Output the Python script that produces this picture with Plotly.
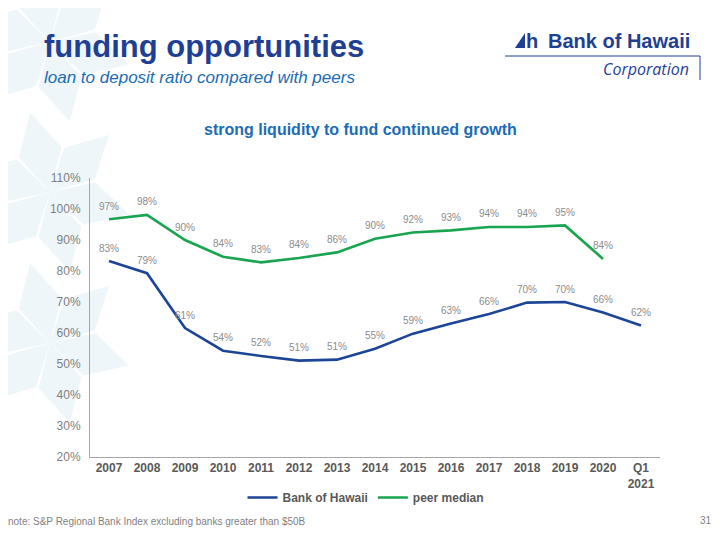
import math
import plotly.graph_objects as go

# loan to deposit ratio, %
years = ["2007", "2008", "2009", "2010", "2011", "2012", "2013", "2014",
         "2015", "2016", "2017", "2018", "2019", "2020", "Q1<br>2021"]
boh = [83.2, 79.3, 61.6, 54.3, 52.6, 51.1, 51.4, 54.9,
       59.8, 63.1, 66.1, 69.8, 70.0, 66.6, 62.4]
peer = [96.7, 98.1, 90.0, 84.6, 82.8, 84.2, 86.0, 90.4,
        92.4, 93.1, 94.2, 94.2, 94.7, 83.9, None]
boh_labels = ["83%", "79%", "61%", "54%", "52%", "51%", "51%", "55%",
              "59%", "63%", "66%", "70%", "70%", "66%", "62%"]
peer_labels = ["97%", "98%", "90%", "84%", "83%", "84%", "86%", "90%",
               "92%", "93%", "94%", "94%", "95%", "84%", ""]

blue = "#1c4597"
green = "#19a550"
navy = "#1f3f95"
font = "Liberation Sans, Arial, sans-serif"

# plot area in page pixels (page has an 8px body offset, so figure is 712x532)
PL, PR, PT, PB = 90, 660, 178, 457


def px(x):
    return (x - PL) / (PR - PL)


def py(y):
    return (PB - y) / (PB - PT)


fig = go.Figure()
fig.add_trace(go.Scatter(x=years, y=boh, name="<b>Bank of Hawaii</b>",
                         mode="lines", line=dict(color=blue, width=2.6)))
fig.add_trace(go.Scatter(x=years, y=peer, name="<b>peer median</b>",
                         mode="lines", line=dict(color=green, width=2.6)))

# data labels above the points (category index as x)
for series, labels in [(boh, boh_labels), (peer, peer_labels)]:
    for i, (v, t) in enumerate(zip(series, labels)):
        if v is None:
            continue
        fig.add_annotation(x=i, y=v, text=t, showarrow=False, yshift=13,
                           font=dict(size=10, color="#8c8c8c", family=font))

# faint star pattern on the left of the slide
star_col = "#eef6f9"
shapes = []
for cx, cy in [(50, 42), (50, 192), (50, 343)]:
    for k in range(6):
        a = math.radians(-44 + 60 * k)
        ux, uy = math.cos(a), math.sin(a)
        vx, vy = -uy, ux
        r, w = 82, 22
        pts = [(cx, cy),
               (cx + ux * r * 0.5 + vx * w, cy + uy * r * 0.5 + vy * w),
               (cx + ux * r, cy + uy * r),
               (cx + ux * r * 0.5 - vx * w, cy + uy * r * 0.5 - vy * w)]
        path = "M " + " L ".join(f"{px(x):.4f} {py(y):.4f}" for x, y in pts) + " Z"
        shapes.append(dict(type="path", path=path, xref="paper", yref="paper",
                           fillcolor=star_col, line=dict(width=0), layer="below"))

# logo rules and sail mark
shapes.append(dict(type="line", xref="paper", yref="paper",
                   x0=px(505), x1=px(700), y0=py(56), y1=py(56),
                   line=dict(color=navy, width=1)))
shapes.append(dict(type="line", xref="paper", yref="paper",
                   x0=px(700), x1=px(700), y0=py(56), y1=py(80),
                   line=dict(color=navy, width=1)))
shapes.append(dict(type="path", xref="paper", yref="paper",
                   path=f"M {px(515):.4f} {py(48):.4f} L {px(525):.4f} {py(33):.4f} "
                        f"L {px(525):.4f} {py(48):.4f} Z",
                   fillcolor=navy, line=dict(width=0)))

fig.update_layout(
    width=712, height=532,
    margin=dict(l=PL - 8, r=712 - (PR - 8), t=PT - 8, b=532 - (PB - 8)),
    paper_bgcolor="white", plot_bgcolor="rgba(0,0,0,0)",
    font=dict(family=font, color="#595959"),
    showlegend=True,
    legend=dict(orientation="h", x=px(366), xanchor="center", y=py(483),
                yanchor="top", itemwidth=30,
                font=dict(size=12, color="#595959", family=font)),
    shapes=shapes,
    xaxis=dict(type="category", showgrid=False, showline=True,
               linecolor="#a6a6a6", linewidth=1, ticks="",
               tickprefix="<b>", ticksuffix="</b>",
               tickfont=dict(size=12, color="#595959", family=font),
               range=[-0.5, 14.5]),
    yaxis=dict(range=[20, 110], dtick=10, ticksuffix="%", showgrid=False,
               showline=True, linecolor="#a6a6a6", linewidth=1,
               ticks="outside", ticklen=6, tickcolor="rgba(0,0,0,0)",
               zeroline=False,
               tickfont=dict(size=12, color="#7f7f7f", family=font)),
)


def page_text(text, x, y, size, color, anchor="left", fam=font):
    fig.add_annotation(text=text, xref="paper", yref="paper", x=px(x), y=py(y),
                       xanchor=anchor, yanchor="middle", showarrow=False,
                       font=dict(size=size, color=color, family=fam))


page_text("<b>funding opportunities</b>", 42, 47, 31, navy)
page_text("<i>loan to deposit ratio compared with peers</i>", 42, 78, 17, "#1b6cb5")
page_text("<b>strong liquidity to fund continued growth</b>", 360, 129, 16,
          "#1b6cb5", anchor="center")
page_text("<b>h</b>", 524, 41, 20, navy)
page_text("<b>Bank of Hawaii</b>", 692, 41, 20, navy, anchor="right")
page_text("<i>Corporation</i>", 691, 69, 16, navy, anchor="right",
          fam="Open Sans, DejaVu Sans")
page_text("note: S&P Regional Bank Index excluding banks greater than $50B",
          6, 521, 10, "#7f7f7f")
page_text("31", 714, 520, 10, "#7f7f7f", anchor="right")

fig.write_html("out.html")
